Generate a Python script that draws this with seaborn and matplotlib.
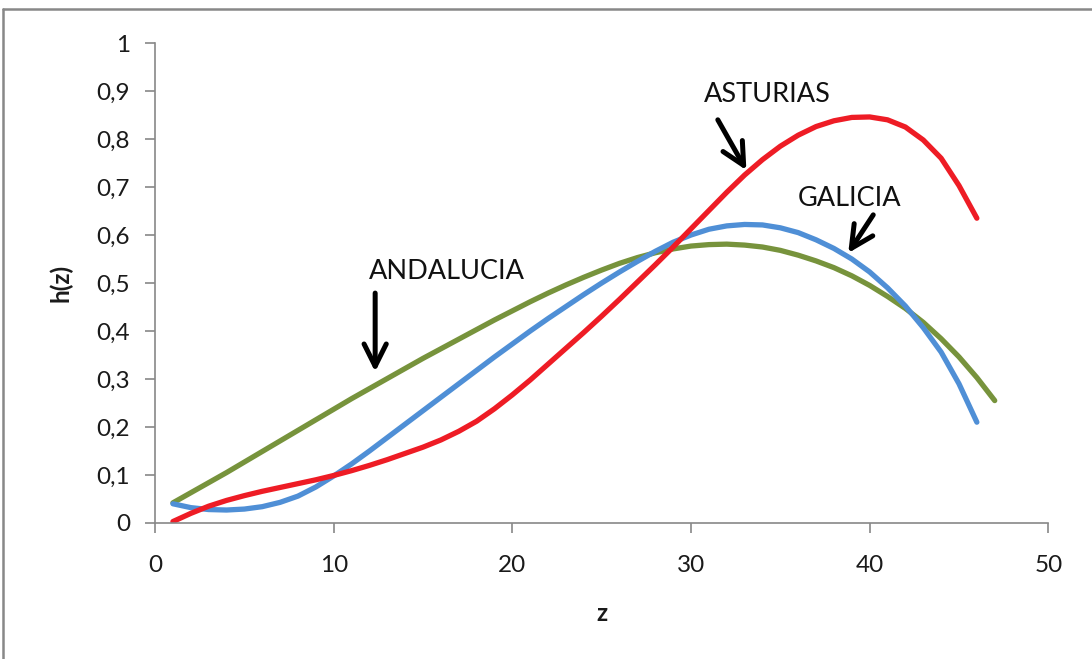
import numpy as np
import pandas as pd
import seaborn as sns
import matplotlib.pyplot as plt
from matplotlib.lines import Line2D

sns.set_theme(style="white")
plt.rcParams['font.family'] = ['Lato', 'DejaVu Sans']

z_and = list(range(1, 48))
h_and = [0.042, 0.063, 0.084, 0.105, 0.127, 0.149, 0.171, 0.193, 0.215, 0.237,
         0.259, 0.280, 0.301, 0.322, 0.343, 0.363, 0.383, 0.403, 0.423, 0.442,
         0.461, 0.479, 0.496, 0.512, 0.527, 0.541, 0.553, 0.563, 0.571, 0.577,
         0.580, 0.581, 0.579, 0.575, 0.568, 0.558, 0.546, 0.532, 0.515, 0.495,
         0.472, 0.447, 0.418, 0.384, 0.346, 0.303, 0.255]

z_gal = list(range(1, 47))
h_gal = [0.040, 0.032, 0.028, 0.027, 0.029, 0.034, 0.043, 0.056, 0.075, 0.098,
         0.123, 0.150, 0.178, 0.206, 0.234, 0.262, 0.290, 0.318, 0.346, 0.373,
         0.400, 0.426, 0.451, 0.476, 0.500, 0.523, 0.545, 0.566, 0.585, 0.600,
         0.612, 0.619, 0.622, 0.621, 0.615, 0.605, 0.590, 0.572, 0.550, 0.523,
         0.490, 0.452, 0.407, 0.356, 0.290, 0.210]

z_ast = list(range(1, 47))
h_ast = [0.003, 0.020, 0.035, 0.047, 0.057, 0.066, 0.074, 0.082, 0.090, 0.099,
         0.109, 0.120, 0.132, 0.145, 0.158, 0.173, 0.191, 0.212, 0.238, 0.267,
         0.298, 0.331, 0.364, 0.397, 0.431, 0.466, 0.502, 0.538, 0.575, 0.613,
         0.651, 0.689, 0.725, 0.757, 0.785, 0.808, 0.826, 0.838, 0.845, 0.846,
         0.840, 0.825, 0.798, 0.760, 0.703, 0.635]

series = [("ANDALUCIA", z_and, h_and, "#77933C"),
          ("GALICIA", z_gal, h_gal, "#4F8FD6"),
          ("ASTURIAS", z_ast, h_ast, "#EE1C25")]

fig = plt.figure(figsize=(10.92, 6.59), dpi=100)
ax = fig.add_axes([0.142, 0.2064, 0.818, 0.7283])

for name, z, h, c in series:
    df = pd.DataFrame({"z": z, "h": h})
    sns.lineplot(data=df, x="z", y="h", ax=ax, color=c, linewidth=3.8, sort=False,
                 solid_capstyle="round", solid_joinstyle="round")

ax.set_xlim(0, 50)
ax.set_ylim(0, 1)
ax.set_xticks([0, 10, 20, 30, 40, 50])
ax.set_yticks(np.arange(0, 1.01, 0.1))
ax.set_yticklabels(["0", "0,1", "0,2", "0,3", "0,4", "0,5", "0,6", "0,7", "0,8", "0,9", "1"])
ax.tick_params(axis='both', labelsize=17.5, labelcolor='#1a1a1a', color='#888888',
               length=7, width=1.2, direction='out', left=True, bottom=True)
ax.tick_params(axis='x', pad=16)
ax.tick_params(axis='y', pad=11)
for s in ['top', 'right']:
    ax.spines[s].set_visible(False)
for s in ['left', 'bottom']:
    ax.spines[s].set_color('#888888')
    ax.spines[s].set_linewidth(1.2)
ax.set_xlabel("z", fontsize=17.5, fontweight='bold', color='#1a1a1a')
ax.set_ylabel("h(z)", fontsize=17.5, fontweight='bold', color='#1a1a1a')
ax.xaxis.set_label_coords(0.5, -0.165)
ax.yaxis.set_label_coords(-0.092, 0.5)

arrow = dict(arrowstyle='->,head_length=0.8,head_width=0.4', color='black', lw=3.6,
             mutation_scale=20, shrinkA=0, shrinkB=0)
ax.annotate("", xy=(12.32, 0.315), xytext=(12.32, 0.479), arrowprops=arrow)
ax.text(16.35, 0.523, "ANDALUCIA", fontsize=19.5, ha='center', va='center', color='#111111')
ax.annotate("", xy=(33.1, 0.735), xytext=(31.5, 0.84), arrowprops=arrow)
ax.text(34.3, 0.892, "ASTURIAS", fontsize=19.5, ha='center', va='center', color='#111111')
ax.annotate("", xy=(38.8, 0.5625), xytext=(40.2, 0.642), arrowprops=arrow)
ax.text(38.9, 0.677, "GALICIA", fontsize=19.5, ha='center', va='center', color='#111111')

fig.add_artist(Line2D([0.003, 1.0], [0.986, 0.986], transform=fig.transFigure,
                      color='#888888', linewidth=1.8))
fig.add_artist(Line2D([0.003, 0.003], [0.0, 0.986], transform=fig.transFigure,
                      color='#888888', linewidth=1.8))

fig.savefig("out.png", dpi=100)
